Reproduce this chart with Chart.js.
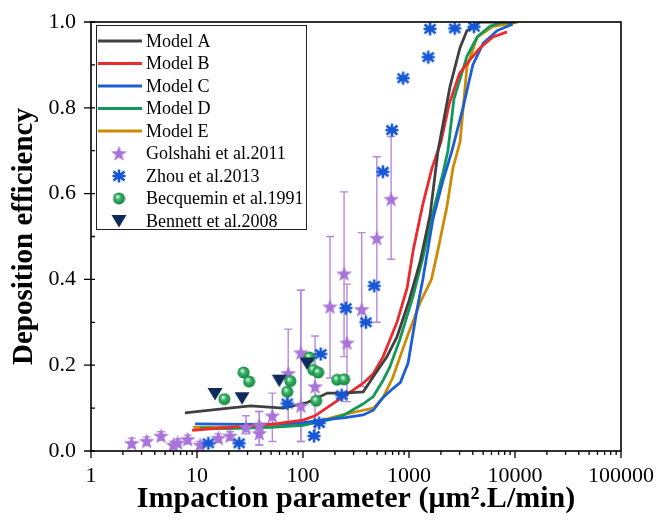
<!DOCTYPE html>
<html>
<head>
<meta charset="utf-8">
<script src="https://cdn.jsdelivr.net/npm/chart.js@4.4.0/dist/chart.umd.min.js"></script>
<style>
html,body{margin:0;padding:0;background:#fff}
#wrap{width:659px;height:520px}
</style>
</head>
<body>
<div id="wrap"><canvas id="chart" width="659" height="520"></canvas></div>
<script>
// model curves (x = impaction parameter, y = deposition efficiency)
const modelAx = [7.7, 20, 32, 65, 110, 170, 240, 370, 460, 620, 770, 1000, 1270, 1580, 1880, 2440, 3030, 3520, 4700, 10000];
const modelAy = [0.089, 0.100, 0.105, 0.100, 0.113, 0.135, 0.135, 0.138, 0.173, 0.220, 0.266, 0.350, 0.440, 0.550, 0.700, 0.850, 0.940, 0.980, 1.000, 1.000];
const modelBx = [9, 20, 50, 100, 130, 190, 270, 370, 460, 570, 770, 960, 1100, 1350, 1650, 2000, 2400, 3000, 3700, 4700, 6200, 8400];
const modelBy = [0.048, 0.055, 0.062, 0.072, 0.082, 0.110, 0.135, 0.158, 0.180, 0.220, 0.300, 0.380, 0.470, 0.575, 0.660, 0.720, 0.810, 0.880, 0.910, 0.940, 0.965, 0.977];
const modelCx = [9.6, 30, 60, 100, 150, 250, 370, 460, 570, 700, 830, 980, 1190, 1350, 1680, 2090, 2545, 3230, 4000, 5000, 6800, 9500];
const modelCy = [0.063, 0.062, 0.063, 0.066, 0.072, 0.078, 0.084, 0.095, 0.125, 0.145, 0.160, 0.205, 0.330, 0.400, 0.540, 0.630, 0.700, 0.800, 0.900, 0.950, 0.980, 0.995];
const modelDx = [10.7, 20, 50, 100, 170, 240, 370, 460, 570, 660, 820, 1090, 1350, 1680, 2090, 2330, 2650, 3520, 4400, 5800, 7700, 9500];
const modelDy = [0.053, 0.052, 0.055, 0.060, 0.072, 0.083, 0.110, 0.127, 0.165, 0.196, 0.260, 0.360, 0.450, 0.555, 0.648, 0.700, 0.820, 0.920, 0.965, 0.990, 1.000, 1.000];
const modelEx = [9.2, 30, 60, 100, 170, 240, 370, 460, 570, 700, 960, 1270, 1630, 1880, 2280, 2600, 3030, 3520, 4400, 6200, 10700];
const modelEy = [0.055, 0.056, 0.058, 0.062, 0.075, 0.085, 0.095, 0.100, 0.125, 0.170, 0.266, 0.345, 0.400, 0.470, 0.570, 0.660, 0.720, 0.895, 0.965, 0.990, 1.000];

// experimental data
const golshahiX = [2.42, 3.35, 4.57, 5.98, 6.58, 8.17, 10.7, 15.9, 20.5, 29, 38.7, 38.7, 51.4, 72.5, 95.5, 95.5, 130, 180, 244, 260, 358, 497, 678];
const golshahiY = [0.018, 0.023, 0.035, 0.014, 0.019, 0.027, 0.014, 0.030, 0.035, 0.055, 0.060, 0.041, 0.082, 0.181, 0.229, 0.105, 0.150, 0.336, 0.413, 0.252, 0.330, 0.496, 0.587];
const golshahiLo = [0.008, 0.013, 0.025, 0.005, 0.010, 0.017, 0.005, 0.020, 0.025, 0.040, 0.014, 0.014, 0.022, 0.068, 0.022, 0.022, 0.030, 0.170, 0.220, 0.115, 0.150, 0.300, 0.447];
const golshahiHi = [0.030, 0.033, 0.045, 0.022, 0.028, 0.037, 0.022, 0.040, 0.045, 0.082, 0.092, 0.092, 0.135, 0.284, 0.375, 0.375, 0.268, 0.500, 0.604, 0.389, 0.509, 0.686, 0.733];
const zhouX = [12.8, 25, 71, 127, 142, 147, 232, 254, 392, 470, 567, 690, 881, 1520, 1580, 2700, 4100];
const zhouY = [0.018, 0.018, 0.111, 0.035, 0.065, 0.226, 0.130, 0.333, 0.300, 0.385, 0.651, 0.748, 0.869, 0.918, 0.984, 0.985, 0.989];
const becqueminX = [18.1, 27.5, 31, 71, 76, 115, 125, 139, 133, 210, 244];
const becqueminY = [0.121, 0.183, 0.162, 0.138, 0.163, 0.218, 0.189, 0.183, 0.117, 0.166, 0.167];
const bennettX = [14.8, 26.6, 59.7, 109];
const bennettY = [0.133, 0.123, 0.164, 0.204];

const xTickLabels = ['1', '10', '100', '1000', '10000', '100000'];
const yTickLabels = ['0.0', '0.2', '0.4', '0.6', '0.8', '1.0'];

const SERIF = '"Liberation Serif", "Times New Roman", serif';

function pts(xs, ys) { return xs.map((x, i) => ({ x: x, y: ys[i] })); }

// marker images
function makeStar(color) {
  const c = document.createElement('canvas'); c.width = 17; c.height = 17;
  const g = c.getContext('2d');
  g.fillStyle = color; g.beginPath();
  for (let i = 0; i < 10; i++) {
    const r = i % 2 ? 3.4 : 8.3;
    const a = -Math.PI / 2 + i * Math.PI / 5;
    g.lineTo(8.5 + r * Math.cos(a), 9 + r * Math.sin(a));
  }
  g.closePath(); g.fill();
  return c;
}
function makeAsterisk(color) {
  const c = document.createElement('canvas'); c.width = 16; c.height = 16;
  const g = c.getContext('2d');
  g.strokeStyle = color; g.lineWidth = 2.6; g.lineCap = 'butt';
  g.beginPath();
  g.moveTo(8, 1.5); g.lineTo(8, 14.5);
  g.moveTo(2.5, 3.5); g.lineTo(13.5, 12.5);
  g.moveTo(13.5, 3.5); g.lineTo(2.5, 12.5);
  g.moveTo(1.5, 8); g.lineTo(14.5, 8);
  g.stroke();
  return c;
}
function makeSphere() {
  const c = document.createElement('canvas'); c.width = 13; c.height = 13;
  const g = c.getContext('2d');
  const grad = g.createRadialGradient(5, 4.5, 0.5, 6.5, 6.5, 6.5);
  grad.addColorStop(0, '#d8f5e2'); grad.addColorStop(0.35, '#3cb86a'); grad.addColorStop(1, '#0f7a3a');
  g.fillStyle = grad; g.beginPath(); g.arc(6.5, 6.5, 6, 0, Math.PI * 2); g.fill();
  return c;
}
function makeTriangle(color) {
  const c = document.createElement('canvas'); c.width = 16; c.height = 14;
  const g = c.getContext('2d');
  g.fillStyle = color; g.beginPath();
  g.moveTo(0.5, 1); g.lineTo(15.5, 1); g.lineTo(8, 13.5); g.closePath(); g.fill();
  return c;
}

const starImg = makeStar('#a874d8');
const asteriskImg = makeAsterisk('#1557d4');
const sphereImg = makeSphere();
const triImg = makeTriangle('#0f2b5b');

function lineSet(label, xs, ys, color) {
  return { label: label, data: pts(xs, ys), showLine: true, borderColor: color, backgroundColor: color,
    borderWidth: 2.8, pointRadius: 0, tension: 0, order: 10 };
}
function markSet(label, xs, ys, img, order) {
  return { label: label, data: pts(xs, ys), showLine: false, pointStyle: img, pointRadius: 7, order: order };
}

const datasets = [
  lineSet('Model A', modelAx, modelAy, '#404040'),
  lineSet('Model B', modelBx, modelBy, '#ec2b2f'),
  lineSet('Model C', modelCx, modelCy, '#1c5fd4'),
  lineSet('Model D', modelDx, modelDy, '#12995a'),
  lineSet('Model E', modelEx, modelEy, '#cc8b05'),
  markSet('Golshahi et al.2011', golshahiX, golshahiY, starImg, 4),
  markSet('Zhou et al.2013', zhouX, zhouY, asteriskImg, 3),
  markSet('Becquemin et al.1991', becqueminX, becqueminY, sphereImg, 2),
  markSet('Bennett et al.2008', bennettX, bennettY, triImg, 1)
];

// error bars for Golshahi
const errorBars = {
  id: 'errorBars',
  beforeDatasetsDraw(chart) {
    const xs = chart.scales.x, ys = chart.scales.y, ctx = chart.ctx;
    ctx.save();
    ctx.strokeStyle = '#b48ae0'; ctx.lineWidth = 1.4;
    golshahiX.forEach((v, i) => {
      const px = xs.getPixelForValue(v);
      const y1 = ys.getPixelForValue(golshahiLo[i]), y2 = ys.getPixelForValue(golshahiHi[i]);
      ctx.beginPath();
      ctx.moveTo(px, y1); ctx.lineTo(px, y2);
      ctx.moveTo(px - 4, y1); ctx.lineTo(px + 4, y1);
      ctx.moveTo(px - 4, y2); ctx.lineTo(px + 4, y2);
      ctx.stroke();
    });
    ctx.restore();
  }
};

// frame, tick marks and legend
const frameAndLegend = {
  id: 'frameAndLegend',
  afterDraw(chart) {
    const ctx = chart.ctx, a = chart.chartArea;
    const xs = chart.scales.x, ys = chart.scales.y;
    ctx.save();
    ctx.strokeStyle = '#000'; ctx.lineWidth = 1.6;
    ctx.strokeRect(a.left, a.top, a.right - a.left, a.bottom - a.top);
    ctx.lineWidth = 1.3;
    ctx.beginPath();
    // x ticks: decades long and outward, minor short
    for (let d = 0; d <= 5; d++) {
      const base = Math.pow(10, d);
      const px = xs.getPixelForValue(base);
      ctx.moveTo(px, a.bottom); ctx.lineTo(px, a.bottom + 7);
      if (d < 5) for (let m = 2; m <= 9; m++) {
        const pm = xs.getPixelForValue(base * m);
        ctx.moveTo(pm, a.bottom); ctx.lineTo(pm, a.bottom + 4);
      }
    }
    // y ticks: every 0.1 inward, labelled ones outward too
    for (let k = 0; k <= 10; k++) {
      const py = ys.getPixelForValue(k / 10);
      ctx.moveTo(a.left, py); ctx.lineTo(a.left + 4, py);
      if (k % 2 === 0) { ctx.moveTo(a.left - 7, py); ctx.lineTo(a.left, py); }
    }
    ctx.stroke();

    // legend
    const bx = 96, by = 25, bw = 210, bh = 204;
    ctx.fillStyle = '#fff'; ctx.fillRect(bx, by, bw, bh);
    ctx.lineWidth = 1; ctx.strokeStyle = '#222';
    ctx.strokeRect(bx + 0.5, by + 0.5, bw, bh);
    ctx.font = '18px ' + SERIF; ctx.textBaseline = 'middle'; ctx.fillStyle = '#000';
    chart.data.datasets.forEach((ds, i) => {
      const cy = by + 16 + i * 22.5;
      if (ds.showLine) {
        ctx.strokeStyle = ds.borderColor; ctx.lineWidth = 2.8;
        ctx.beginPath(); ctx.moveTo(bx + 2, cy); ctx.lineTo(bx + 46, cy); ctx.stroke();
      } else {
        const img = ds.pointStyle;
        ctx.drawImage(img, bx + 23 - img.width / 2, cy - img.height / 2);
      }
      ctx.fillStyle = '#000';
      ctx.fillText(ds.label, bx + 50, cy + 1);
    });
    ctx.restore();
  }
};

new Chart(document.getElementById('chart'), {
  type: 'scatter',
  data: { datasets: datasets },
  options: {
    responsive: false,
    animation: false,
    layout: { padding: { left: 0, right: 38, top: 22, bottom: 0 } },
    plugins: { legend: { display: false }, tooltip: { enabled: false } },
    scales: {
      x: {
        type: 'logarithmic', min: 1, max: 100000,
        afterFit: s => { s.height = 69; s.paddingLeft = 0; s.paddingRight = 0; },
        grid: { display: false, drawTicks: false },
        border: { display: false },
        ticks: {
          autoSkip: false, maxRotation: 0, padding: 12, color: '#000',
          font: { family: SERIF, size: 22 },
          callback: v => {
            const e = Math.log10(v);
            return Math.abs(e - Math.round(e)) < 1e-9 ? xTickLabels[Math.round(e)] : '';
          }
        },
        title: { display: true, text: 'Impaction parameter (μm².L/min)', color: '#000', padding: 3,
          font: { family: SERIF, size: 30, weight: 'bold' } }
      },
      y: {
        min: 0, max: 1,
        afterFit: s => { s.width = 91; s.paddingTop = 0; s.paddingBottom = 0; },
        grid: { display: false, drawTicks: false },
        border: { display: false },
        ticks: {
          stepSize: 0.2, padding: 15, color: '#000',
          font: { family: SERIF, size: 22 },
          callback: (v, i) => yTickLabels[i]
        },
        title: { display: true, text: 'Deposition efficiency', color: '#000', padding: 7,
          font: { family: SERIF, size: 29, weight: 'bold' } }
      }
    }
  },
  plugins: [errorBars, frameAndLegend]
});
</script>
</body>
</html>
